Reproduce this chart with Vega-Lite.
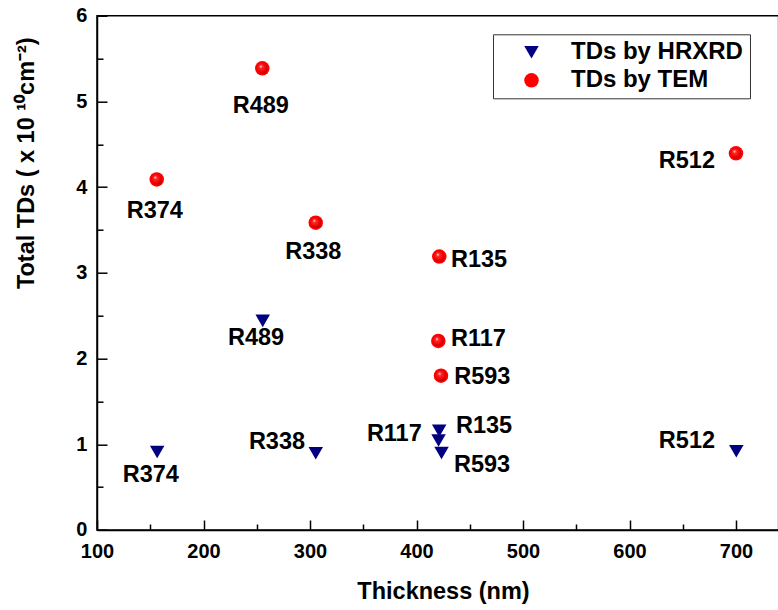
{
  "$schema": "https://vega.github.io/schema/vega-lite/v6.json",
  "width": 681.6,
  "height": 514.3,
  "autosize": {"type": "none"},
  "padding": {"left": 97, "top": 15.7, "right": 0, "bottom": 80},
  "background": "white",
  "config": {
    "view": {"stroke": "black", "strokeWidth": 1.5},
    "text": {"font": "Liberation Sans", "fontWeight": "bold", "fontSize": 23.5, "color": "black"},
    "legend": {
      "orient": "none", "legendX": 396, "legendY": 18.6,
      "strokeColor": "#333333", "strokeWidth": 1, "fillColor": "white",
      "padding": 6, "rowPadding": 4, "symbolOffset": 20.5, "labelOffset": 27.5, "labelLimit": 400,
      "labelFont": "Liberation Sans", "labelFontWeight": "bold", "labelFontSize": 24, "labelColor": "black",
      "symbolSize": 210, "symbolStrokeWidth": 0
    }
  },
  "data": {"values": [
    {"series": "TDs by HRXRD", "sample": "R374", "thickness": 156.5, "tds": 0.91},
    {"series": "TDs by HRXRD", "sample": "R489", "thickness": 255.6, "tds": 2.44},
    {"series": "TDs by HRXRD", "sample": "R338", "thickness": 305.4, "tds": 0.895},
    {"series": "TDs by HRXRD", "sample": "R135", "thickness": 421.3, "tds": 1.157},
    {"series": "TDs by HRXRD", "sample": "R117", "thickness": 420.7, "tds": 1.044},
    {"series": "TDs by HRXRD", "sample": "R593", "thickness": 423.5, "tds": 0.898},
    {"series": "TDs by HRXRD", "sample": "R512", "thickness": 700.3, "tds": 0.919},
    {"series": "TDs by TEM", "sample": "R374", "thickness": 156.1, "tds": 4.09},
    {"series": "TDs by TEM", "sample": "R489", "thickness": 255.2, "tds": 5.386},
    {"series": "TDs by TEM", "sample": "R338", "thickness": 305.4, "tds": 3.585},
    {"series": "TDs by TEM", "sample": "R135", "thickness": 421.4, "tds": 3.19},
    {"series": "TDs by TEM", "sample": "R117", "thickness": 420.5, "tds": 2.205},
    {"series": "TDs by TEM", "sample": "R593", "thickness": 423.0, "tds": 1.8},
    {"series": "TDs by TEM", "sample": "R512", "thickness": 700.0, "tds": 4.394}
  ]},
  "encoding": {
    "x": {"field": "thickness", "type": "quantitative", "scale": {"domain": [100, 740], "nice": false, "zero": false}, "axis": null},
    "y": {"field": "tds", "type": "quantitative", "scale": {"domain": [0, 6], "nice": false, "zero": true}, "axis": null}
  },
  "resolve": {"axis": {"x": "independent", "y": "independent"}},
  "layer": [
    {
      "mark": {"type": "point", "filled": true, "size": 210, "opacity": 1, "strokeWidth": 0},
      "encoding": {
        "x": {"field": "thickness", "type": "quantitative", "scale": {"domain": [100, 740], "nice": false, "zero": false},
          "axis": {"orient": "bottom", "values": [100, 200, 300, 400, 500, 600, 700], "format": "d", "grid": false,
            "domain": true, "domainColor": "black", "domainWidth": 1.5,
            "ticks": true, "tickSize": -10, "tickWidth": 1.5, "tickColor": "black",
            "labelPadding": 22, "labelFont": "Liberation Sans", "labelFontWeight": "bold", "labelFontSize": 20, "labelColor": "black", "labelFlush": false,
            "title": "Thickness (nm)", "titleFont": "Liberation Sans", "titleFontWeight": "bold", "titleFontSize": 23.5, "titleColor": "black",
            "titleX": 346, "titleY": 69, "titleAlign": "center", "titleBaseline": "alphabetic"}},
        "y": {"field": "tds", "type": "quantitative", "scale": {"domain": [0, 6], "nice": false, "zero": true},
          "axis": {"orient": "left", "values": [0, 1, 2, 3, 4, 5, 6], "format": "d", "grid": false,
            "domain": true, "domainColor": "black", "domainWidth": 1.5,
            "ticks": true, "tickSize": -10, "tickWidth": 1.5, "tickColor": "black",
            "labelPadding": 20, "labelFont": "Liberation Sans", "labelFontWeight": "bold", "labelFontSize": 20, "labelColor": "black",
            "title": "Total TDs ( x 10 ¹⁰cm⁻²)", "titleFont": "Liberation Sans", "titleFontWeight": "bold", "titleFontSize": 23.5, "titleColor": "black",
            "titleX": -70, "titleY": 147, "titleAlign": "center", "titleBaseline": "middle", "titleAngle": -90}},
        "color": {"field": "series", "type": "nominal", "scale": {"domain": ["TDs by HRXRD", "TDs by TEM"], "range": ["#000080", "#ff0000"]}, "legend": {"title": null}},
        "shape": {"field": "series", "type": "nominal", "scale": {"domain": ["TDs by HRXRD", "TDs by TEM"], "range": ["triangle-down", "circle"]}, "legend": {"title": null}}
      }
    },
    {
      "transform": [{"filter": "datum.series === 'TDs by TEM'"}],
      "mark": {"type": "point", "shape": "circle", "filled": true, "size": 113, "opacity": 1, "strokeWidth": 0,
        "fill": {"gradient": "radial", "x1": 0.35, "y1": 0.3, "r1": 0, "x2": 0.45, "y2": 0.45, "r2": 0.6,
          "stops": [{"offset": 0, "color": "#ffffff"}, {"offset": 0.25, "color": "#ff2a2a"}, {"offset": 0.75, "color": "#ee0000"}, {"offset": 1, "color": "#a00000"}]}},
      "encoding": {
        "x": {"field": "thickness", "type": "quantitative", "scale": {"domain": [100, 740], "nice": false, "zero": false},
          "axis": {"orient": "bottom", "values": [150, 250, 350, 450, 550, 650], "grid": false, "domain": false, "labels": false,
            "ticks": true, "tickSize": -6, "tickWidth": 1.5, "tickColor": "black", "title": null}},
        "y": {"field": "tds", "type": "quantitative", "scale": {"domain": [0, 6], "nice": false, "zero": true},
          "axis": {"orient": "left", "values": [0.5, 1.5, 2.5, 3.5, 4.5, 5.5], "grid": false, "domain": false, "labels": false,
            "ticks": true, "tickSize": -6, "tickWidth": 1.5, "tickColor": "black", "title": null}}
      }
    },
    {"transform": [{"filter": "datum.series === 'TDs by TEM' && datum.sample === 'R374'"}], "mark": {"type": "text", "align": "center", "baseline": "middle", "dx": -2, "dy": 32}, "encoding": {"text": {"field": "sample"}}},
    {"transform": [{"filter": "datum.series === 'TDs by TEM' && datum.sample === 'R489'"}], "mark": {"type": "text", "align": "center", "baseline": "middle", "dx": -1.5, "dy": 37.5}, "encoding": {"text": {"field": "sample"}}},
    {"transform": [{"filter": "datum.series === 'TDs by TEM' && datum.sample === 'R338'"}], "mark": {"type": "text", "align": "center", "baseline": "middle", "dx": -2.4, "dy": 29.6}, "encoding": {"text": {"field": "sample"}}},
    {"transform": [{"filter": "datum.series === 'TDs by TEM' && datum.sample === 'R135'"}], "mark": {"type": "text", "align": "left", "baseline": "middle", "dx": 11.7, "dy": 3}, "encoding": {"text": {"field": "sample"}}},
    {"transform": [{"filter": "datum.series === 'TDs by TEM' && datum.sample === 'R117'"}], "mark": {"type": "text", "align": "left", "baseline": "middle", "dx": 12.7, "dy": -2}, "encoding": {"text": {"field": "sample"}}},
    {"transform": [{"filter": "datum.series === 'TDs by TEM' && datum.sample === 'R593'"}], "mark": {"type": "text", "align": "left", "baseline": "middle", "dx": 13.3, "dy": 1.5}, "encoding": {"text": {"field": "sample"}}},
    {"transform": [{"filter": "datum.series === 'TDs by TEM' && datum.sample === 'R512'"}], "mark": {"type": "text", "align": "right", "baseline": "middle", "dx": -21, "dy": 7.4}, "encoding": {"text": {"field": "sample"}}},
    {"transform": [{"filter": "datum.series === 'TDs by HRXRD' && datum.sample === 'R374'"}], "mark": {"type": "text", "align": "center", "baseline": "middle", "dx": -6.4, "dy": 23.5}, "encoding": {"text": {"field": "sample"}}},
    {"transform": [{"filter": "datum.series === 'TDs by HRXRD' && datum.sample === 'R489'"}], "mark": {"type": "text", "align": "center", "baseline": "middle", "dx": -6.7, "dy": 17.5}, "encoding": {"text": {"field": "sample"}}},
    {"transform": [{"filter": "datum.series === 'TDs by HRXRD' && datum.sample === 'R338'"}], "mark": {"type": "text", "align": "right", "baseline": "middle", "dx": -10.7, "dy": -11.5}, "encoding": {"text": {"field": "sample"}}},
    {"transform": [{"filter": "datum.series === 'TDs by HRXRD' && datum.sample === 'R135'"}], "mark": {"type": "text", "align": "left", "baseline": "middle", "dx": 16.8, "dy": -4.8}, "encoding": {"text": {"field": "sample"}}},
    {"transform": [{"filter": "datum.series === 'TDs by HRXRD' && datum.sample === 'R117'"}], "mark": {"type": "text", "align": "right", "baseline": "middle", "dx": -16.8, "dy": -6.2}, "encoding": {"text": {"field": "sample"}}},
    {"transform": [{"filter": "datum.series === 'TDs by HRXRD' && datum.sample === 'R593'"}], "mark": {"type": "text", "align": "left", "baseline": "middle", "dx": 12.5, "dy": 11.7}, "encoding": {"text": {"field": "sample"}}},
    {"transform": [{"filter": "datum.series === 'TDs by HRXRD' && datum.sample === 'R512'"}], "mark": {"type": "text", "align": "right", "baseline": "middle", "dx": -21.3, "dy": -10.2}, "encoding": {"text": {"field": "sample"}}}
  ]
}
